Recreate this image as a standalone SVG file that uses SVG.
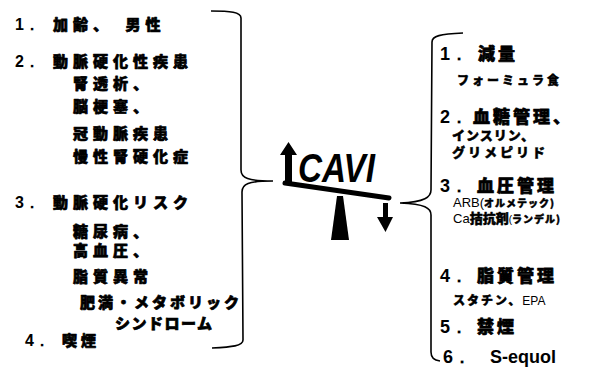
<svg xmlns="http://www.w3.org/2000/svg" width="599" height="373" viewBox="0 0 599 373">
<style>
.t{font-family:"Noto Sans CJK JP","Liberation Sans",sans-serif;font-weight:900;fill:#000;stroke:#000;stroke-width:0.7;stroke-linejoin:round}
.s{stroke-width:0.45}
.L{font-size:15px;letter-spacing:5px}
.R{font-size:17px;letter-spacing:3px}
.n{font-family:"Liberation Sans",sans-serif;font-weight:bold;fill:#000}
.r{font-family:"Liberation Sans","Noto Sans CJK JP",sans-serif;font-weight:normal;fill:#000}
.br{fill:none;stroke:#000;stroke-width:1.6}
</style>
<rect width="599" height="373" fill="#fff"/>
<g id="left">
<text class="n" x="15" y="30" font-size="16">1．</text>
<text class="t L" x="53" y="30">加齢、　男性</text>
<text class="n" x="15" y="67" font-size="16">2．</text>
<text class="t L" x="53" y="67">動脈硬化性疾患</text>
<text class="t L" x="73" y="89">腎透析、</text>
<text class="t L" x="73" y="112">脳梗塞、</text>
<text class="t L" x="73" y="139">冠動脈疾患</text>
<text class="t L" x="73" y="162">慢性腎硬化症</text>
<text class="n" x="15" y="208" font-size="16">3．</text>
<text class="t L" x="53" y="208">動脈硬化リスク</text>
<text class="t L" x="73" y="237">糖尿病、</text>
<text class="t L" x="73" y="256">高血圧、</text>
<text class="t L" x="73" y="282">脂質異常</text>
<text class="t L" x="80" y="308" style="letter-spacing:3px">肥満・メタボリック</text>
<text class="t L" x="115" y="329" style="letter-spacing:1.5px">シンドローム</text>
<text class="n" x="25" y="346" font-size="16">4．</text>
<text class="t L" x="62" y="346" style="letter-spacing:4px">喫煙</text>
</g>
<g id="cavi">
<polygon points="280,155 288.5,142 297,155 292,155 292,182 285,182 285,155"/>
<text x="298" y="182" font-family="Liberation Sans,sans-serif" font-weight="bold" font-style="italic" font-size="40" textLength="77" lengthAdjust="spacingAndGlyphs">CAVI</text>
<line x1="285" y1="183" x2="389" y2="198" stroke="#000" stroke-width="5" stroke-linecap="round"/>
<polygon points="337,196 343,196 349,240 331,240"/>
<polygon points="383,203 388,203 388,217 393,217 385.5,232 377,217 383,217"/>
</g>
<g id="right">
<text class="n" x="440" y="60" font-size="18">1．</text>
<text class="t R" x="478" y="60">減量</text>
<text class="t s" x="457" y="85" font-size="12" style="letter-spacing:3px">フォーミュラ食</text>
<text class="n" x="440" y="123" font-size="18">2．</text>
<text class="t R" x="473" y="123">血糖管理、</text>
<text class="t s" x="452" y="140" font-size="13" style="letter-spacing:1px">インスリン、</text>
<text class="t s" x="452" y="157" font-size="13" style="letter-spacing:3px">グリメピリド</text>
<text class="n" x="440" y="192" font-size="18">3．</text>
<text class="t R" x="477" y="192">血圧管理</text>
<text x="453" y="207"><tspan class="r" font-size="13">ARB(</tspan><tspan class="t s" font-size="10" style="letter-spacing:1px">オルメテック)</tspan></text>
<text x="453" y="223"><tspan class="r" font-size="13">Ca</tspan><tspan class="t s" font-size="13">拮抗剤</tspan><tspan class="r" font-size="10">(</tspan><tspan class="t s" font-size="10" style="letter-spacing:1px">ランデル)</tspan></text>
<text class="n" x="440" y="282" font-size="18">4．</text>
<text class="t R" x="477" y="282">脂質管理</text>
<text x="453" y="305"><tspan class="t s" font-size="12" style="letter-spacing:2px">スタチン、</tspan><tspan class="r" font-size="12">EPA</tspan></text>
<text class="n" x="440" y="333" font-size="18">5．</text>
<text class="t R" x="477" y="333">禁煙</text>
<text class="n" x="443" y="363" font-size="18">6．</text>
<text class="n" x="490" y="363" font-size="18">S-equol</text>
</g>
<g id="connectors">
<path class="br" d="M211,11 C230,11 241,12 241,18 L241,170 C241,178 248,181 273,181 C248,181 242,184 242,192 L243,340 C243,346 232,347 212,348"/>
<path class="br" d="M463,33 C440,34 432,36 432,42 L431,190 C431,197 425,202 400,203 C425,204 431,208 431,215 L431,352 C431,358 434,360 440,361"/>
</g>
</svg>
